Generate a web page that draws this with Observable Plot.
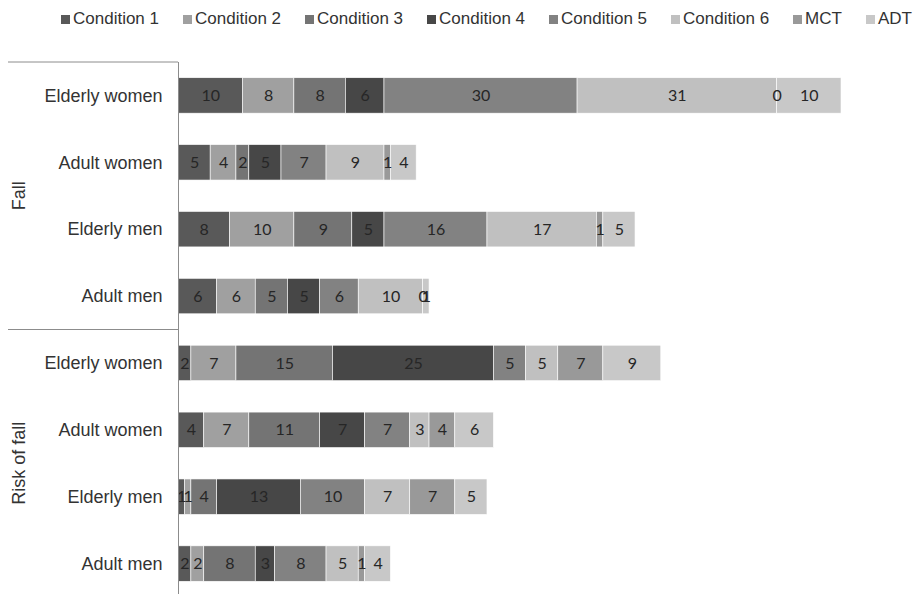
<!DOCTYPE html>
<html><head><meta charset="utf-8">
<script src="https://cdn.jsdelivr.net/npm/d3@7"></script>
<script src="https://cdn.jsdelivr.net/npm/@observablehq/plot@0.6"></script>
<style>
html,body{margin:0;padding:0;background:#fff;}
#legend{height:38px;display:flex;align-items:center;justify-content:space-between;padding-left:61px;padding-right:2px;font:17px "Liberation Sans",Arial,sans-serif;color:#333;box-sizing:border-box;width:914px;}
.item{display:flex;align-items:center;gap:3px;white-space:nowrap}
.sw{width:9px;height:9px;display:inline-block}
</style></head><body>
<div id="legend"></div>
<div id="chart"></div>
<script>
// categories
const groupNames = ["Fall", "Risk of fall"];
const subgroups = ["Elderly women", "Adult women", "Elderly men", "Adult men"];
const series = ["Condition 1", "Condition 2", "Condition 3", "Condition 4", "Condition 5", "Condition 6", "MCT", "ADT"];
const colors = ["#595959", "#a0a0a0", "#747474", "#474747", "#828282", "#c0c0c0", "#999999", "#c8c8c8"];

// values, rows: Fall (EW, AW, EM, AM), Risk of fall (EW, AW, EM, AM)
const condition1 = [10, 5, 8, 6, 2, 4, 1, 2];
const condition2 = [8, 4, 10, 6, 7, 7, 1, 2];
const condition3 = [8, 2, 9, 5, 15, 11, 4, 8];
const condition4 = [6, 5, 5, 5, 25, 7, 13, 3];
const condition5 = [30, 7, 16, 6, 5, 7, 10, 8];
const condition6 = [31, 9, 17, 10, 5, 3, 7, 5];
const mct = [0, 1, 1, 0, 7, 4, 7, 1];
const adt = [10, 4, 5, 1, 9, 6, 5, 4];
const seriesValues = [condition1, condition2, condition3, condition4, condition5, condition6, mct, adt];

const rowKeys = groupNames.flatMap(g => subgroups.map(s => g + "|" + s));
const data = [];
rowKeys.forEach((row, i) => {
  series.forEach((s, j) => data.push({row, series: s, value: seriesValues[j][i]}));
});
const totals = rowKeys.map((r, i) => d3.sum(seriesValues, v => v[i]));

// legend
const legend = d3.select("#legend");
series.forEach((s, j) => {
  const it = legend.append("div").attr("class", "item");
  it.append("span").attr("class", "sw").style("background", colors[j]);
  it.append("span").text(s);
});

function groupDecor(index, scales, values, dimensions, context) {
  const y = scales.y;
  const bw = y.bandwidth(), step = y.step();
  const half = (step - bw) / 2;
  const g = d3.create("svg:g");
  for (const grp of groupNames) {
    const keys = rowKeys.filter(k => k.startsWith(grp + "|"));
    const top = y(keys[0]) - half;
    const bottom = y(keys[keys.length - 1]) + bw + half;
    g.append("line").attr("x1", 8).attr("x2", dimensions.marginLeft)
      .attr("y1", top).attr("y2", top).attr("stroke", "#8c8c8c");
    g.append("text")
      .attr("transform", `translate(19,${(top + bottom) / 2}) rotate(-90)`)
      .attr("text-anchor", "middle").attr("dominant-baseline", "central")
      .attr("fill", "#333").style("font", '18px "Liberation Sans", Arial, sans-serif')
      .text(grp);
  }
  return g.node();
}

const chart = Plot.plot({
  width: 914, height: 559,
  marginTop: 24, marginBottom: 0, marginLeft: 178, marginRight: 73,
  x: {axis: null, domain: [0, d3.max(totals)]},
  y: {domain: rowKeys, paddingInner: 0.47, paddingOuter: 0.235, round: false, axis: null},
  color: {domain: series, range: colors},
  style: {fontFamily: '"Liberation Sans", Arial, sans-serif', color: "#333", background: "#fff"},
  marks: [
    Plot.barX(data, Plot.stackX({x: "value", y: "row", fill: "series", stroke: "#fff", strokeWidth: 0.6})),
    Plot.text(data, Plot.stackX({x: "value", y: "row", z: "series", text: d => String(d.value),
      fill: "#262626", fontSize: 16, fontFamily: "Lato"})),
    Plot.axisY({tickSize: 0, tickPadding: 16, fontSize: 18, label: null,
      tickFormat: d => d.split("|")[1]}),
    Plot.ruleX([0], {stroke: "#8c8c8c"}),
    groupDecor
  ]
});
document.getElementById("chart").appendChild(chart);
</script>
</body></html>
